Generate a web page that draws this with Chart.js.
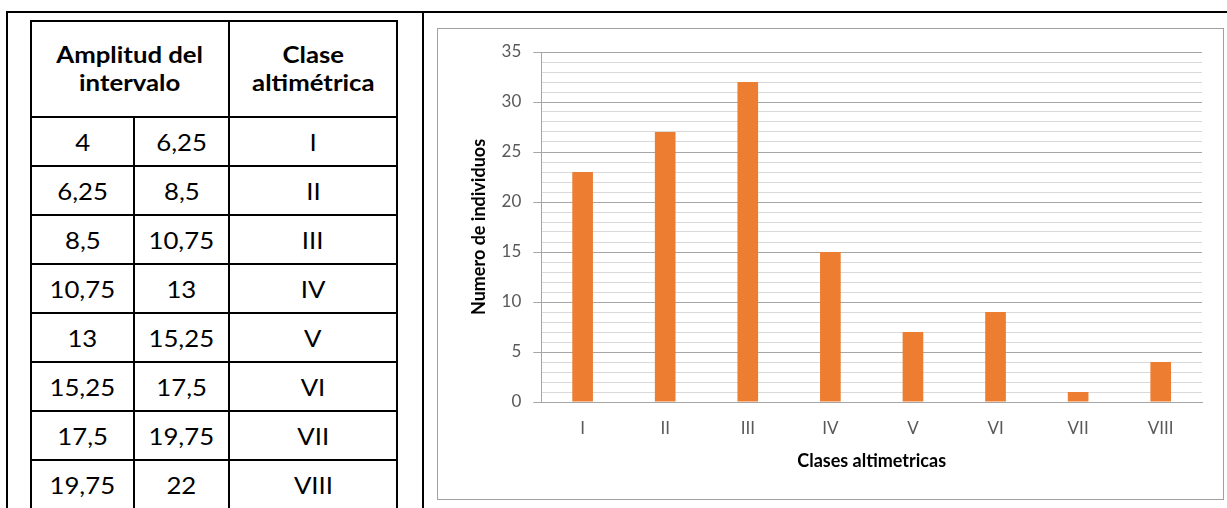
<!DOCTYPE html>
<html>
<head>
<meta charset="utf-8">
<script src="https://cdn.jsdelivr.net/npm/chart.js@4"></script>
<style>
  body { margin: 0; background: #fff; font-family: Lato, "Open Sans", sans-serif; }
  #frame { position: absolute; left: 6px; top: 11px; width: 1240px; height: 520px;
           border-left: 2px solid #000; border-top: 2px solid #000; }
  #divider { position: absolute; left: 422px; top: 11px; width: 2px; height: 500px; background: #000; }
  table { position: absolute; left: 30px; top: 20px; border-collapse: collapse; }
  td, th { border: 2px solid #000; text-align: center; padding: 0; color: #000; }
  th { font-weight: bold; font-size: 22px; line-height: 28px; height: 94px; }
  td { height: 47px; font-size: 23px; }
  th span { display: inline-block; transform: scaleX(1.17); }
  td span { display: inline-block; transform: scaleX(1.12); }
  #box { position: absolute; left: 437px; top: 28px; width: 785px; height: 470px; border: 1px solid #a0a0a0; }
</style>
</head>
<body>
<div id="frame"></div>
<div id="divider"></div>
<table id="tbl"></table>
<div id="box"><canvas id="myChart" width="785" height="470"></canvas></div>
<script>
// table values
const desde = ['4', '6,25', '8,5', '10,75', '13', '15,25', '17,5', '19,75'];
const hasta = ['6,25', '8,5', '10,75', '13', '15,25', '17,5', '19,75', '22'];
const clases = ['I', 'II', 'III', 'IV', 'V', 'VI', 'VII', 'VIII'];
// chart values
const individuos = [23, 27, 32, 15, 7, 9, 1, 4];

const tbl = document.getElementById('tbl');
let html = '<tr><th colspan="2" style="width:97px"><span>Amplitud del<br>intervalo</span></th>' +
           '<th style="width:166px"><span>Clase<br>altimétrica</span></th></tr>';
for (let i = 0; i < clases.length; i++) {
  html += '<tr><td style="width:101px"><span>' + desde[i] + '</span></td><td style="width:93px"><span>' +
          hasta[i] + '</span></td><td><span>' + clases[i] + '</span></td></tr>';
}
tbl.innerHTML = html;

const isMajor = v => v % 5 === 0;

Chart.defaults.font.family = 'Lato, "Open Sans", sans-serif';

const ctx = document.getElementById('myChart').getContext('2d');
const myChart = new Chart(ctx, {
  type: 'bar',
  data: {
    labels: clases,
    datasets: [{
      data: individuos,
      backgroundColor: '#ED7D31',
      borderWidth: 0,
      barPercentage: 0.25,
      categoryPercentage: 1
    }]
  },
  options: {
    responsive: false,
    animation: false,
    layout: { padding: { top: 23, left: 26, right: 21, bottom: 23 } },
    plugins: { legend: { display: false }, tooltip: { enabled: false } },
    scales: {
      x: {
        grid: { display: false, drawTicks: true, tickLength: 10 },
        border: { display: true, color: '#a6a6a6' },
        ticks: { color: '#595959', font: { size: 17 }, padding: 6 },
        title: {
          display: true, text: 'Clases altimetricas', color: '#000',
          font: { size: 18, weight: 'bold' }, padding: { top: 6, bottom: 4 }
        }
      },
      y: {
        min: 0, max: 35,
        grid: {
          color: c => isMajor(c.tick.value) ? '#a6a6a6' : '#d9d9d9',
          tickColor: c => isMajor(c.tick.value) ? '#a6a6a6' : 'rgba(0,0,0,0)',
          tickLength: 8
        },
        border: { display: true, color: '#a6a6a6' },
        ticks: {
          stepSize: 1, autoSkip: false, color: '#595959', font: { size: 17 }, padding: 12,
          callback: v => isMajor(v) ? v : ''
        },
        title: {
          display: true, text: 'Numero de individuos', color: '#000',
          font: { size: 18, weight: 'bold' }, padding: { top: 4, bottom: 0 }
        }
      }
    }
  }
});
</script>
</body>
</html>
